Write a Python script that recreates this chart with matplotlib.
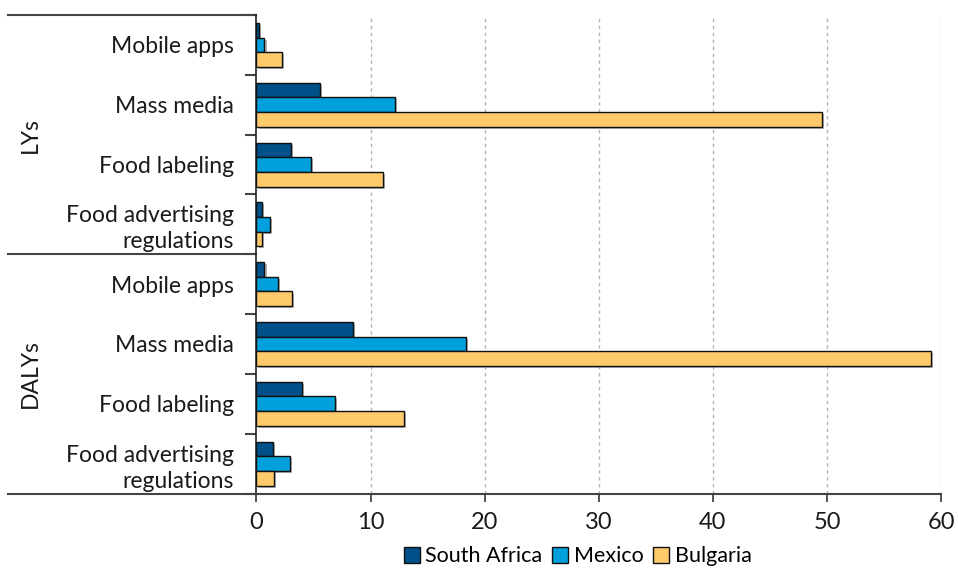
import matplotlib
matplotlib.use("Agg")
import matplotlib.pyplot as plt
import matplotlib.patheffects as pe
from matplotlib.lines import Line2D
from matplotlib.patches import Patch
import numpy as np

plt.rcParams['font.family'] = ['Lato', 'DejaVu Sans']

# Interventions, listed top to bottom within each outcome block
interventions = ["Mobile apps", "Mass media", "Food labeling",
                 "Food advertising\nregulations"]
outcomes = ["LYs", "DALYs"]
countries = ["South Africa", "Mexico", "Bulgaria"]
colors = ["#00508A", "#00A0DC", "#FFCA6B"]

# Values per country, LYs block followed by DALYs block
south_africa = [0.2, 5.6, 3.0, 0.5, 0.7, 8.45, 4.0, 1.45]
mexico = [0.7, 12.1, 4.8, 1.15, 1.85, 18.4, 6.85, 2.95]
bulgaria = [2.2, 49.6, 11.1, 0.5, 3.1, 59.1, 12.9, 1.5]
series = [south_africa, mexico, bulgaria]

x_ticks = [0, 10, 20, 30, 40, 50, 60]

fig = plt.figure(figsize=(9.58, 5.71), dpi=100)
ax = fig.add_axes([0.2677, 0.1357, 0.7146, 0.838])

n = len(south_africa)
y = np.arange(n)
h = 0.245
shadow = [pe.SimplePatchShadow(offset=(1.5, -1.5), shadow_rgbFace="#777777", alpha=0.55),
          pe.Normal()]
for k, (vals, col) in enumerate(zip(series, colors)):
    bars = ax.barh(y + (k - 1) * h, vals, height=h, color=col,
                   edgecolor="#111111", linewidth=1.0, zorder=3)
    for b in bars:
        b.set_path_effects(shadow)

ax.set_xlim(0, 60)
ax.set_ylim(n - 0.5, -0.5)
ax.set_xticks(x_ticks)
ax.set_xticklabels([str(t) for t in x_ticks], fontsize=17, color="#1a1a1a")
ax.tick_params(axis="x", length=6, width=1.2, color="#333333", pad=7)

# Category labels at group centres, separators at group boundaries
ax.set_yticks(y)
ax.set_yticklabels(interventions * 2, fontsize=16.5, color="#1a1a1a",
                   multialignment="right", linespacing=1.3)
ax.tick_params(axis="y", which="major", length=0, pad=16)
ax.set_yticks(np.arange(-0.5, n + 0.5, 1.0), minor=True)
ax.tick_params(axis="y", which="minor", length=8, width=1.5, color="#444444")

for t in x_ticks[1:]:
    ax.axvline(t, color="#b5b5b5", linestyle=(0, (2.5, 2.5)), linewidth=1.0, zorder=1)

for s in ["top", "right"]:
    ax.spines[s].set_visible(False)
ax.spines["left"].set_color("#222222")
ax.spines["left"].set_linewidth(1.2)
ax.spines["bottom"].set_color("#444444")
ax.spines["bottom"].set_linewidth(1.5)

# Block divider lines extending into the label area
x0 = -(256.5 - 8) / (941 - 256.5)
for yy in [-0.5, 3.5, 7.5]:
    ax.add_line(Line2D([x0, 0], [yy, yy], transform=ax.get_yaxis_transform(),
                       color="#444444", linewidth=1.5, clip_on=False))

# Outcome block labels
for i, name in enumerate(outcomes):
    ax.text(-(256.5 - 30) / (941 - 256.5), 1.5 + 4 * i, name,
            transform=ax.get_yaxis_transform(), rotation=90,
            ha="center", va="center", fontsize=16.5, color="#1a1a1a")

handles = [Patch(facecolor=c, edgecolor="#111111", linewidth=1.0) for c in colors]
fig.legend(handles, countries, loc="center", bbox_to_anchor=(0.603, 0.026),
           ncol=3, frameon=False, fontsize=15.5, handlelength=0.75, handleheight=0.75,
           handletextpad=0.25, columnspacing=0.45, borderaxespad=0)

fig.savefig("out.png", dpi=100)
